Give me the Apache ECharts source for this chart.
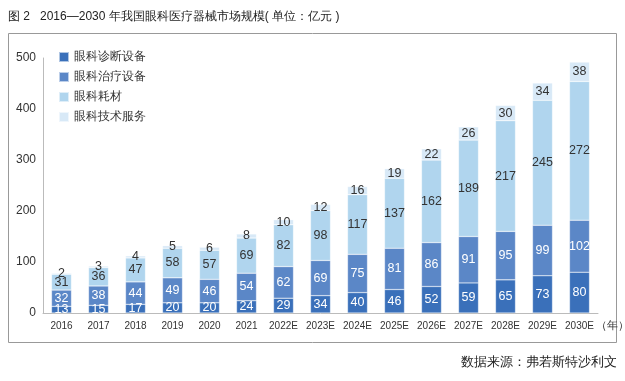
<!DOCTYPE html>
<html><head><meta charset="utf-8">
<script src="https://cdn.jsdelivr.net/npm/echarts@6/dist/echarts.min.js"></script>
<style>html,body{margin:0;padding:0;background:#fff}#c{width:625px;height:381px}</style>
</head><body><div id="c"></div>
<script>
var categories = ['2016','2017','2018','2019','2020','2021','2022E','2023E','2024E','2025E','2026E','2027E','2028E','2029E','2030E'];
var diagnosis = [13,15,17,20,20,24,29,34,40,46,52,59,65,73,80];
var treatment = [32,38,44,49,46,54,62,69,75,81,86,91,95,99,102];
var consumables = [31,36,47,58,57,69,82,98,117,137,162,189,217,245,272];
var services = [2,3,4,5,6,8,10,12,16,19,22,26,30,34,38];
var seriesNames = ['眼科诊断设备','眼科治疗设备','眼科耗材','眼科技术服务'];
var yTicks = [0,100,200,300,400,500];

var colors = ['#3a70ba','#5b87c7','#b0d5ee','#d8e9f7'];
var labelColors = ['#ffffff','#ffffff','#333333','#333333'];
var font = '"Liberation Sans", Arial, sans-serif';
var data = [diagnosis, treatment, consumables, services];

var chart = echarts.init(document.getElementById('c'));
chart.setOption({
  animation: false,
  textStyle: {fontFamily: font},
  color: colors,
  title: {text: '图 2   2016—2030 年我国眼科医疗器械市场规模( 单位：亿元 )', left: 3, top: 6,
    textStyle: {fontSize: 12, fontWeight: 'normal', color: '#222', fontFamily: font}},
  legend: {orient: 'vertical', left: 53, top: 46, itemWidth: 10, itemHeight: 10, itemGap: 8,
    icon: 'rect', data: seriesNames,
    textStyle: {fontSize: 12, color: '#333', fontFamily: font}},
  grid: {left: 43, right: 27, top: 58, bottom: 68, containLabel: false},
  xAxis: {type: 'category', data: categories,
    axisLine: {lineStyle: {color: '#bbbbbb', width: 1}}, axisTick: {show: false},
    axisLabel: {interval: 0, fontSize: 10, color: '#333', margin: 8, fontFamily: '"Liberation Sans Narrow", "Liberation Sans", sans-serif'}},
  yAxis: {type: 'value', min: 0, max: 500, interval: 100,
    axisLine: {show: true, lineStyle: {color: '#bbbbbb', width: 1}}, axisTick: {show: false},
    splitLine: {show: false},
    axisLabel: {fontSize: 12, color: '#333', margin: 7,
      formatter: function(v){ return yTicks.indexOf(v) >= 0 ? String(v) : ''; }}},
  series: data.map(function(d, i){
    return {name: seriesNames[i], type: 'bar', stack: 'total', data: d, barWidth: 20,
      itemStyle: {color: colors[i], borderColor: 'rgba(255,255,255,0.6)', borderWidth: 0.5},
      label: {show: true, position: 'inside', fontSize: 12.5, color: labelColors[i], fontFamily: font}};
  }),
  graphic: [
    {type: 'rect', shape: {x: 8.5, y: 33.5, width: 608, height: 309}, style: {fill: 'none', stroke: '#999', lineWidth: 1}, silent: true},
    {type: 'text', left: 596, top: 320, style: {text: '（年）', fontSize: 11, fill: '#333', fontFamily: font}},
    {type: 'text', right: 8, top: 356, style: {text: '数据来源：弗若斯特沙利文', fontSize: 13, fill: '#222', fontFamily: font}}
  ]
});
</script></body></html>
